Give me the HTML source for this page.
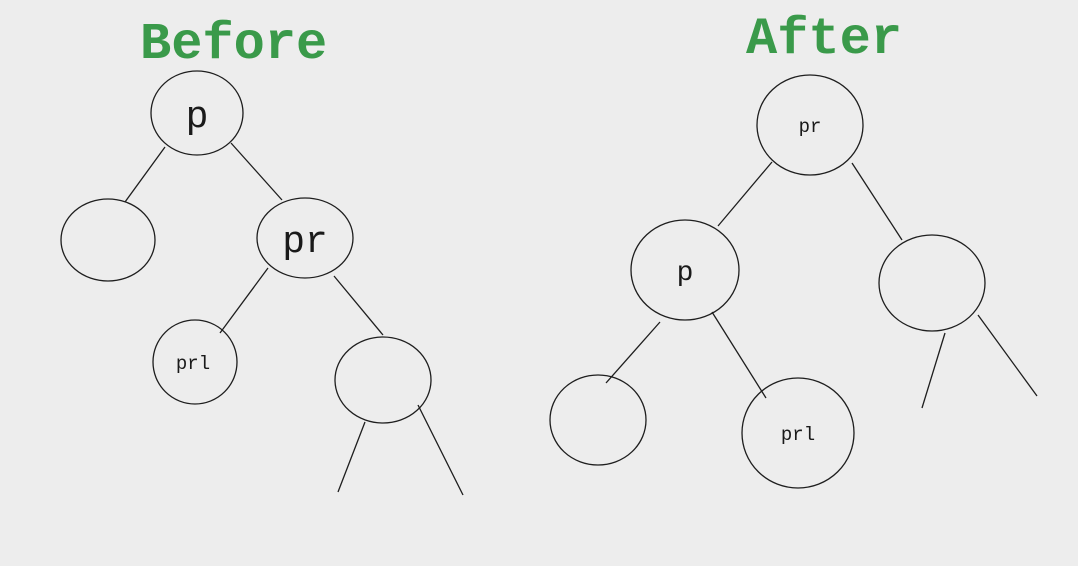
<!DOCTYPE html>
<html><head><meta charset="utf-8"><style>
html,body{margin:0;padding:0;background:#ededed;}
svg{display:block}
text{font-family:"Liberation Mono","DejaVu Sans Mono",monospace;fill:#1a1a1a}
.t{fill:#3a9a4a;font-size:52px;font-weight:bold}
</style></head><body>
<svg width="1078" height="566" viewBox="0 0 1078 566">
<rect width="1078" height="566" fill="#ededed"/>
<g fill="none" stroke="#1e1e1e" stroke-width="1.3">
<ellipse cx="197" cy="113" rx="46" ry="42"/>
<ellipse cx="108" cy="240" rx="47" ry="41"/>
<ellipse cx="305" cy="238" rx="48" ry="40"/>
<ellipse cx="195" cy="362" rx="42" ry="42"/>
<ellipse cx="383" cy="380" rx="48" ry="43"/>
<line x1="165" y1="147" x2="125" y2="202"/>
<line x1="231" y1="143" x2="282" y2="200"/>
<line x1="268" y1="268" x2="220" y2="333"/>
<line x1="334" y1="276" x2="383" y2="335"/>
<line x1="365" y1="422" x2="338" y2="492"/>
<line x1="418" y1="405" x2="463" y2="495"/>
<ellipse cx="810" cy="125" rx="53" ry="50"/>
<ellipse cx="685" cy="270" rx="54" ry="50"/>
<ellipse cx="932" cy="283" rx="53" ry="48"/>
<ellipse cx="598" cy="420" rx="48" ry="45"/>
<ellipse cx="798" cy="433" rx="56" ry="55"/>
<line x1="772" y1="162" x2="718" y2="226"/>
<line x1="852" y1="163" x2="902" y2="240"/>
<line x1="660" y1="322" x2="606" y2="383"/>
<line x1="712" y1="312" x2="766" y2="398"/>
<line x1="945" y1="333" x2="922" y2="408"/>
<line x1="978" y1="315" x2="1037" y2="396"/>
</g>
<text class="t" x="140" y="58">Before</text>
<text class="t" x="746" y="53">After</text>
<text x="197" y="127" font-size="38" text-anchor="middle">p</text>
<text x="305" y="252" font-size="38" text-anchor="middle">pr</text>
<text x="193" y="369" font-size="19" text-anchor="middle">prl</text>
<text x="810" y="132" font-size="19" text-anchor="middle">pr</text>
<text x="685" y="280" font-size="28" text-anchor="middle">p</text>
<text x="798" y="440" font-size="19" text-anchor="middle">prl</text>
</svg>
</body></html>
